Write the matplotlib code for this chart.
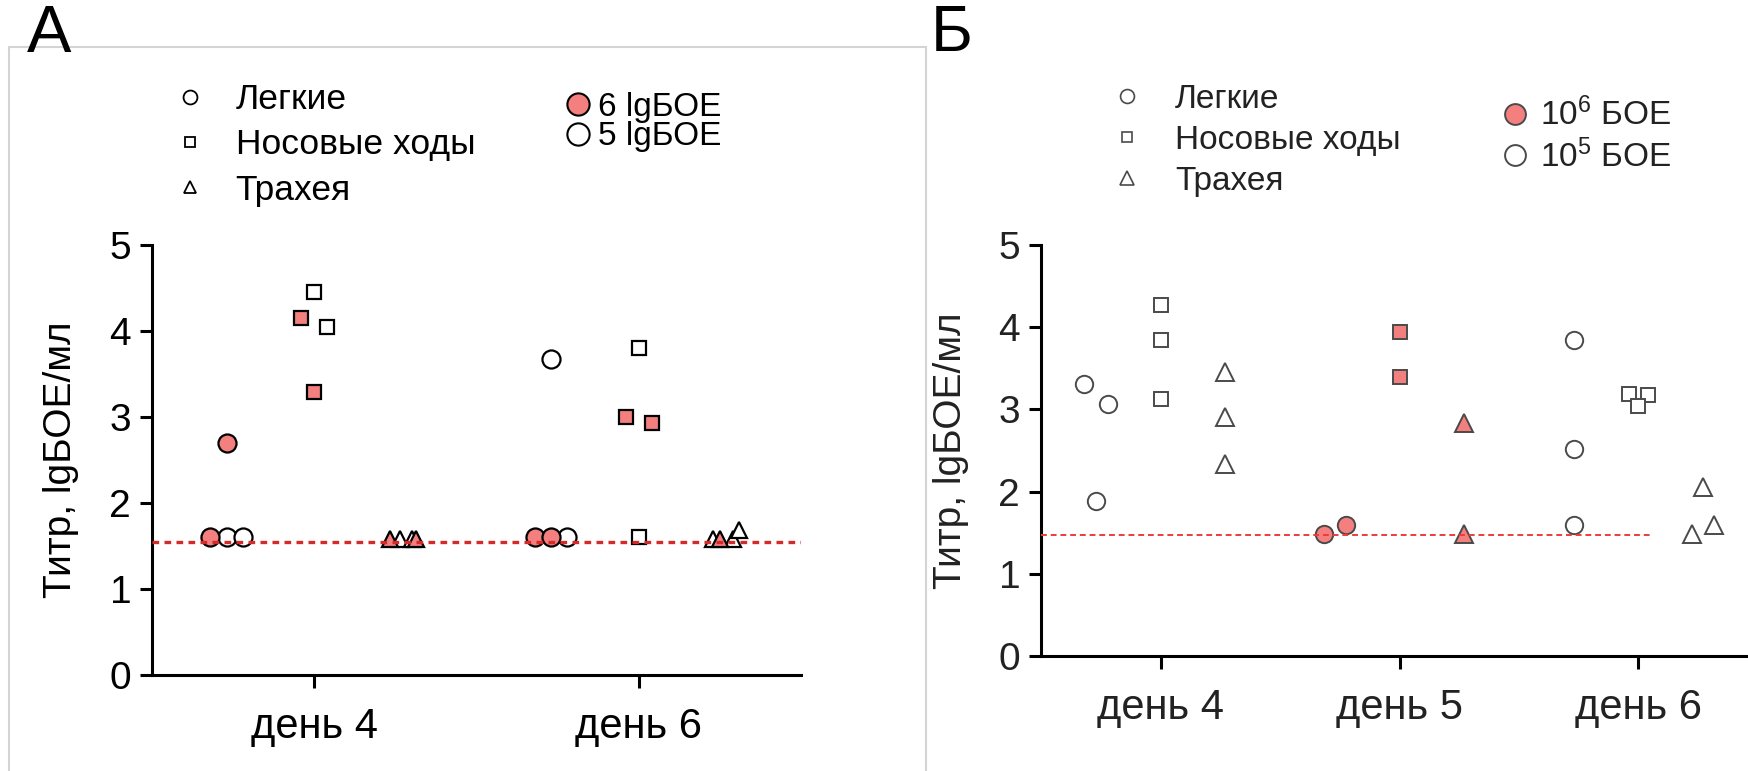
import numpy as np
import matplotlib
matplotlib.use("Agg")
import matplotlib.pyplot as plt
from matplotlib.lines import Line2D
from matplotlib.patches import Rectangle

plt.rcParams['font.family'] = ['Liberation Sans', 'DejaVu Sans']
plt.rcParams['mathtext.fontset'] = 'custom'
plt.rcParams['mathtext.rm'] = 'Liberation Sans'
plt.rcParams['mathtext.it'] = 'Liberation Sans'

# ---- data ----
tissues = ['Легкие', 'Носовые ходы', 'Трахея']
days_a = ['день 4', 'день 6']
days_b = ['день 4', 'день 5', 'день 6']
ylabel = 'Титр, lgБОЕ/мл'

# panel A: [tissue][day] lists, 6 lg and 5 lg
a_hi = [[[1.6, 2.7], [1.6, 1.6]],
        [[4.15, 3.29], [3.0, 2.93]],
        [[1.58, 1.58], [1.58]]]
a_lo = [[[1.6, 1.6], [3.68, 1.6]],
        [[4.45, 4.05], [3.8, 1.6]],
        [[1.58, 1.58], [1.58, 1.58, 1.69]]]
a_hi_jit = [[[-0.05, 0.0], [-0.05, 0.0]],
            [[-0.04, 0.0], [-0.04, 0.04]],
            [[-0.036, 0.045], [-0.02]]]
a_lo_jit = [[[0.0, 0.05], [0.0, 0.05]],
            [[0.0, 0.04], [0.0, 0.0]],
            [[-0.005, 0.03], [-0.04, 0.02, 0.04]]]
lod_a = 1.55

# panel B: [tissue][day]; day 5 = 10^6, days 4 and 6 = 10^5
b_vals = [[[3.31, 3.07, 1.88], [1.49, 1.59], [3.85, 2.52, 1.59]],
          [[4.27, 3.84, 3.13], [3.94, 3.40], [3.19, 3.17, 3.04]],
          [[3.46, 2.91, 2.33], [2.83, 1.49], [2.06, 1.49, 1.59]]]
b_jit = [[[-0.05, 0.05, 0.0], [-0.045, 0.045], [0.0, 0.0, 0.0]],
         [[0.0, 0.0, 0.0], [0.0, 0.0], [-0.04, 0.04, 0.0]],
         [[0.0, 0.0, 0.0], [0.0, 0.0], [0.0, -0.045, 0.045]]]
b_high_dose = [False, True, False]
lod_b = 1.47
lod_b_end = 2.05

# ---- style ----
pink = '#f47f7f'
shift = [-0.27, 0.0, 0.27]
mk = ['o', 's', '^']
ms_a = [13, 9.5, 11]
ms_b = [12.5, 9.5, 12.5]

fig = plt.figure(figsize=(17.49, 7.71), dpi=100)
W, H = 1749, 771

# light frame round panel A
fig.patches.append(Rectangle((9 / W, -0.1), (926 - 9) / W, 1.1 - 47 / H,
                             transform=fig.transFigure, fill=False,
                             edgecolor='#d4d4d4', linewidth=1.5))


def style_axes(ax, labels, lab_col, ylab_size, ylab_pad):
    for s in ['top', 'right']:
        ax.spines[s].set_visible(False)
    for s in ['left', 'bottom']:
        ax.spines[s].set_linewidth(2.2)
    ax.set_ylim(0, 5)
    ax.set_yticks(range(6))
    ax.set_xticks(range(len(labels)))
    ax.set_xticklabels(labels)
    ax.tick_params(axis='both', direction='out', length=9, width=2.2,
                   labelsize=28, labelcolor=lab_col, pad=6)
    ax.tick_params(axis='x', pad=14, labelsize=30)
    ax.set_ylabel(ylabel, fontsize=ylab_size, color=lab_col, labelpad=ylab_pad)


# ---- panel A ----
axA = fig.add_axes([152 / W, 1 - 675 / H, 649 / W, 430 / H])
for t in range(3):
    for d in range(2):
        xs = d + shift[t] + np.array(a_lo_jit[t][d])
        axA.plot(xs, a_lo[t][d], linestyle='none', marker=mk[t], ms=ms_a[t],
                 mfc='white', mec='black', mew=1.6, zorder=3)
        xs = d + shift[t] + np.array(a_hi_jit[t][d])
        axA.plot(xs, a_hi[t][d], linestyle='none', marker=mk[t], ms=ms_a[t],
                 mfc=pink, mec='black', mew=1.6, zorder=3)
axA.axhline(lod_a, color='#d42a2a', linestyle=(0, (2, 1.6)), linewidth=2.4, zorder=4)
axA.set_xlim(-0.5, 1.5)
style_axes(axA, days_a, 'black', 28, 22)

# ---- panel B ----
axB = fig.add_axes([1041 / W, 1 - 656 / H, (1758 - 1041) / W, 411 / H])
for t in range(3):
    for d in range(3):
        xs = d + shift[t] + np.array(b_jit[t][d])
        fc = pink if b_high_dose[d] else 'white'
        axB.plot(xs, b_vals[t][d], linestyle='none', marker=mk[t], ms=ms_b[t],
                 mfc=fc, mec='#4a4a4a', mew=1.4, zorder=3)
axB.plot([-0.5, lod_b_end], [lod_b, lod_b], color='#ee3b3b',
         linestyle=(0, (3, 2)), linewidth=1.4, zorder=4)
axB.set_xlim(-0.5, 2.5)
style_axes(axB, days_b, '#222222', 28, 21)

# ---- legends ----
hA = [Line2D([], [], linestyle='none', marker=m, ms=s, mfc='white', mec='black', mew=1.3)
      for m, s in zip(mk, [10, 7.5, 9])]
fig.legend(hA, tissues, loc='upper left', bbox_to_anchor=(172 / W, 1 - 83 / H),
           frameon=False, fontsize=25.5, borderpad=0, borderaxespad=0,
           handlelength=1.0, handletextpad=0.8, labelspacing=0.35)
hA2 = [Line2D([], [], linestyle='none', marker='o', ms=16, mfc=pink, mec='black', mew=1.5),
       Line2D([], [], linestyle='none', marker='o', ms=16, mfc='white', mec='black', mew=1.5)]
fig.legend(hA2, ['6 lgБОЕ', '5 lgБОЕ'], loc='upper left', bbox_to_anchor=(566 / W, 1 - 92 / H),
           frameon=False, fontsize=24, borderpad=0, borderaxespad=0,
           handlelength=0.7, handletextpad=0.25, labelspacing=-0.05)

hB = [Line2D([], [], linestyle='none', marker=m, ms=s, mfc='white', mec='#4a4a4a', mew=1.2)
      for m, s in zip(mk, [10, 7.5, 9.5])]
fig.legend(hB, tissues, loc='upper left', bbox_to_anchor=(1110 / W, 1 - 84 / H),
           frameon=False, fontsize=24, borderpad=0, borderaxespad=0, labelcolor='#222222',
           handlelength=1.0, handletextpad=0.95, labelspacing=0.3)
hB2 = [Line2D([], [], linestyle='none', marker='o', ms=15, mfc=pink, mec='#4a4a4a', mew=1.4),
       Line2D([], [], linestyle='none', marker='o', ms=15, mfc='white', mec='#4a4a4a', mew=1.4)]
fig.legend(hB2, ['10$^6$ БОЕ', '10$^5$ БОЕ'], loc='upper left', bbox_to_anchor=(1503 / W, 1 - 98 / H),
           frameon=False, fontsize=24, borderpad=0, borderaxespad=0, labelcolor='#222222',
           handlelength=0.7, handletextpad=0.4, labelspacing=0.2)

# panel letters
fig.text(27 / W, 1 - 4 / H, 'А', fontsize=48, va='top', ha='left')
fig.text(931 / W, 1 - 4 / H, 'Б', fontsize=46, va='top', ha='left')

fig.savefig('out.png', dpi=100)
